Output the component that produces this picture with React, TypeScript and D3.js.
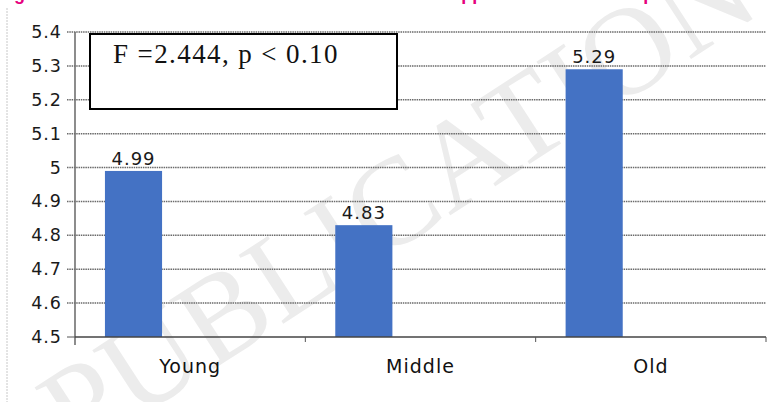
// @ts-nocheck
import React, { useEffect, useRef } from 'react';
import * as d3 from 'd3';

const groups = ['Young', 'Middle', 'Old'];
const means = [4.99, 4.83, 5.29];
const yTicks = [4.5, 4.6, 4.7, 4.8, 4.9, 5, 5.1, 5.2, 5.3, 5.4];
const statLabel = 'F =2.444, p < 0.10';
const titleText = 'Figure 3: Mean Scores of Perceived Level of Social Support across all Groups';
const watermark = 'PUBLICATION';

export default function App() {
    const ref = useRef(null);

    useEffect(() => {
        const W = 775;
        const H = 402;
        const left = 75;
        const right = 766;
        const top = 32;
        const bottom = 337;
        const sans = '"DejaVu Sans", Verdana, sans-serif';

        const svg = d3.select(ref.current);
        svg.selectAll('*').remove();
        svg.attr('width', W).attr('height', H);

        svg.append('rect').attr('width', W).attr('height', H).style('fill', 'white');

        // faint diagonal watermark
        svg.append('text')
            .attr('transform', 'translate(420, 235) rotate(-33)')
            .attr('text-anchor', 'middle')
            .style('font-family', '"Liberation Serif", serif')
            .style('font-size', '125px')
            .style('fill', '#ececec')
            .text(watermark);

        // magenta caption, mostly cut off by the top edge
        svg.append('text')
            .attr('x', -2)
            .attr('y', 0)
            .style('font-family', '"Liberation Sans", Arial, sans-serif')
            .style('font-weight', 'bold')
            .style('font-size', '18px')
            .style('fill', '#e6007e')
            .text(titleText);

        // page border at left
        svg.append('line')
            .attr('x1', 7).attr('x2', 7)
            .attr('y1', 8).attr('y2', H)
            .style('stroke', '#c8c8c8')
            .style('stroke-dasharray', '2,1');

        const x = d3.scaleBand()
            .domain(groups)
            .range([left, right])
            .padding(0);

        const y = d3.scaleLinear()
            .domain([4.5, 5.4])
            .range([bottom, top]);

        const bw = x.bandwidth();

        // gridlines
        svg.append('g')
            .selectAll('line')
            .data(yTicks.filter((t) => t > 4.5))
            .join('line')
            .attr('x1', left - 8)
            .attr('x2', right)
            .attr('y1', (d) => y(d))
            .attr('y2', (d) => y(d))
            .style('stroke', '#6a6a6a')
            .style('stroke-width', 1.5)
            .style('stroke-dasharray', '1.5,0.8');

        // y axis
        svg.append('line')
            .attr('x1', left).attr('x2', left)
            .attr('y1', top).attr('y2', bottom + 8)
            .style('stroke', '#707070')
            .style('stroke-width', 1.6);

        svg.append('line')
            .attr('x1', left - 8).attr('x2', left)
            .attr('y1', bottom).attr('y2', bottom)
            .style('stroke', '#555');

        svg.append('g')
            .selectAll('text')
            .data(yTicks)
            .join('text')
            .attr('x', 62)
            .attr('y', (d) => y(d) + 6)
            .attr('text-anchor', 'end')
            .style('font-family', sans)
            .style('font-size', '17.5px')
            .style('letter-spacing', '1px')
            .style('fill', '#1a1a1a')
            .text((d) => d3.format('~g')(d));

        // bars (single series, sitting left within the category)
        svg.append('g')
            .selectAll('rect')
            .data(groups)
            .join('rect')
            .attr('x', (d) => x(d) + bw * 0.13)
            .attr('width', bw * 0.248)
            .attr('y', (d, i) => y(means[i]))
            .attr('height', (d, i) => bottom - y(means[i]))
            .style('fill', '#4472c4');

        svg.append('g')
            .selectAll('text')
            .data(groups)
            .join('text')
            .attr('x', (d) => x(d) + bw * 0.13 + bw * 0.124)
            .attr('y', (d, i) => y(means[i]) - 6)
            .attr('text-anchor', 'middle')
            .style('font-family', sans)
            .style('font-size', '18px')
            .style('letter-spacing', '1px')
            .style('fill', '#1a1a1a')
            .text((d, i) => means[i]);

        // x axis
        svg.append('line')
            .attr('x1', left).attr('x2', right)
            .attr('y1', bottom).attr('y2', bottom)
            .style('stroke', '#444')
            .style('stroke-width', 1.5);

        svg.append('g')
            .selectAll('line')
            .data(groups)
            .join('line')
            .attr('x1', (d) => x(d) + bw)
            .attr('x2', (d) => x(d) + bw)
            .attr('y1', bottom)
            .attr('y2', bottom + 5)
            .style('stroke', '#555');

        svg.append('g')
            .selectAll('text')
            .data(groups)
            .join('text')
            .attr('x', (d) => x(d) + bw / 2)
            .attr('y', bottom + 36)
            .attr('text-anchor', 'middle')
            .style('font-family', sans)
            .style('font-size', '19px')
            .style('letter-spacing', '1px')
            .style('fill', '#111')
            .text((d) => d);

        // statistics box
        svg.append('rect')
            .attr('x', 90)
            .attr('y', 34)
            .attr('width', 307)
            .attr('height', 75)
            .style('fill', 'white')
            .style('stroke', 'black')
            .style('stroke-width', 2);

        svg.append('text')
            .attr('x', 113)
            .attr('y', 63)
            .style('font-family', '"Liberation Serif", "Times New Roman", serif')
            .style('font-size', '27px')
            .style('letter-spacing', '1.4px')
            .style('fill', '#111')
            .text(statLabel);
    }, []);

    return (
        <div style={{ position: 'absolute', left: 0, top: 0 }}>
            <svg ref={ref} style={{ display: 'block' }} />
        </div>
    );
}
